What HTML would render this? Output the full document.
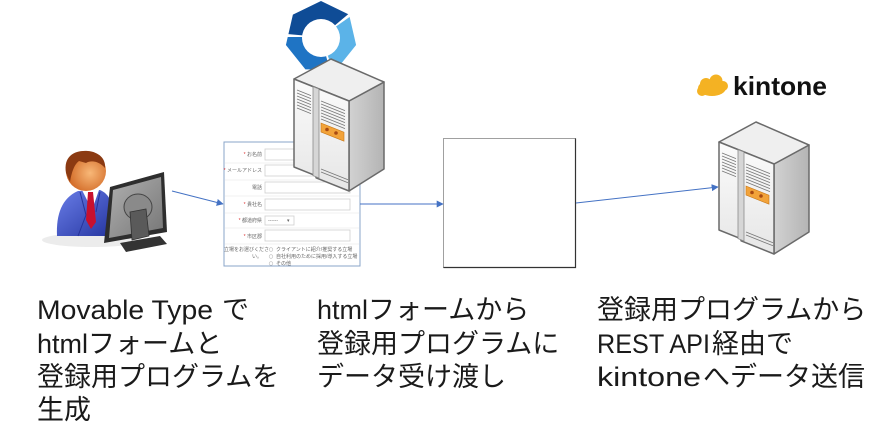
<!DOCTYPE html>
<html>
<head>
<meta charset="utf-8">
<style>
html,body{margin:0;padding:0;background:#fff;}
svg{display:block;}
.t{font-family:"Liberation Sans","Noto Sans CJK JP",sans-serif;font-size:27px;fill:#1a1a1a;}
.f{font-family:"Liberation Sans","Noto Sans CJK JP",sans-serif;font-size:5px;fill:#666;}
</style>
</head>
<body>
<svg width="891" height="427" viewBox="0 0 891 427" xmlns="http://www.w3.org/2000/svg">
<defs>
  <linearGradient id="rg" x1="0" y1="0" x2="1" y2="0">
    <stop offset="0" stop-color="#d2d2d2"/>
    <stop offset="1" stop-color="#b4b4b4"/>
  </linearGradient>
  <linearGradient id="fg" x1="0" y1="0" x2="0" y2="1">
    <stop offset="0" stop-color="#fbfbfb"/>
    <stop offset="1" stop-color="#e6e6e6"/>
  </linearGradient>
  <linearGradient id="bodyg" x1="0" y1="0" x2="1" y2="1">
    <stop offset="0" stop-color="#6a7ee8"/>
    <stop offset="1" stop-color="#2535a0"/>
  </linearGradient>
  <radialGradient id="headg" cx="0.6" cy="0.55" r="0.6">
    <stop offset="0" stop-color="#f8b878"/>
    <stop offset="1" stop-color="#cf6420"/>
  </radialGradient>
  <linearGradient id="mong" x1="0" y1="0" x2="1" y2="1">
    <stop offset="0" stop-color="#b0b0b0"/>
    <stop offset="1" stop-color="#767676"/>
  </linearGradient>
  <marker id="ah" viewBox="0 0 10 10" refX="9" refY="5" markerWidth="7" markerHeight="7" orient="auto" markerUnits="userSpaceOnUse">
    <path d="M0,0 L10,5 L0,10 Z" fill="#4472c4"/>
  </marker>
  <clipPath id="hep">
    <polygon points="321,1 349.1,14.6 356.1,45 336.6,69.4 305.4,69.4 285.9,45 292.9,14.6"/>
  </clipPath>
  <g id="srv">
    <path d="M55,42 L90,23 L90,110 L55,132 Z" fill="url(#rg)" stroke="#6a6a6a" stroke-width="1.5" stroke-linejoin="round"/>
    <path d="M0,20 L37,0 L90,23 L55,42 Z" fill="#efefef" stroke="#6a6a6a" stroke-width="1.5" stroke-linejoin="round"/>
    <path d="M0,20 L55,42 L55,132 L22,118.8 L22,116.8 L0,108 Z" fill="url(#fg)" stroke="#6a6a6a" stroke-width="1.5" stroke-linejoin="round"/>
    <path d="M19,27.6 L25,30 L25,119 L19,116.6 Z" fill="#d6d6d6" stroke="#8a8a8a" stroke-width="0.8"/>
    <g stroke="#777" stroke-width="0.8">
      <path d="M3,31 L17,36.6 M3,34 L17,39.6 M3,37 L17,42.6 M3,40 L17,45.6 M3,43 L17,48.6 M3,46 L17,51.6 M3,49 L17,54.6"/>
      <path d="M27,42 L51,51.6 M27,45 L51,54.6 M27,48 L51,57.6 M27,51 L51,60.6 M27,54 L51,63.6 M27,57 L51,66.6 M27,60 L51,69.6"/>
      <path d="M27,110 L54,120.8 M27,113 L54,123.8"/>
    </g>
    <path d="M27,64 L50,73.2 L50,82.2 L27,73 Z" fill="#f2a33a" stroke="#c87818" stroke-width="0.6"/>
    <circle cx="33" cy="70.5" r="1.8" fill="#a84a12"/>
    <circle cx="42" cy="74" r="1.8" fill="#a84a12"/>
  </g>
</defs>

<!-- Blue ring logo -->
<g clip-path="url(#hep)">
  <path d="M321,37 L261.2,31.8 A60,60 0 0,1 367,-1.6 Z" fill="#0f4c96"/>
  <path d="M321,37 L370.1,2.6 A60,60 0 0,1 341.5,93.4 Z" fill="#5bb3e8"/>
  <path d="M321,37 L336.5,95 A60,60 0 0,1 261,37 Z" fill="#1f74c4"/>
</g>
<circle cx="321" cy="38" r="19" fill="#fff"/>

<!-- Person icon -->
<ellipse cx="92" cy="240" rx="50" ry="7" fill="#ececec"/>
<path d="M57,236 C56,214 62,198 78,191 L100,190 C110,194 113,205 113,215 L112,236 Z" fill="url(#bodyg)"/>
<path d="M80,192 L86,215 L78,236 M100,192 L96,212" stroke="#25339a" stroke-width="1" fill="none"/>
<polygon points="82,190 99,190 92,210" fill="#ffffff"/>
<polygon points="88,192 93,192 96,222 91,229 86,220" fill="#c8102e"/>
<circle cx="86" cy="171" r="20" fill="url(#headg)"/>
<path d="M66,173 C63,155 76,150 88,151 C99,152 106,159 105,168 C99,161 91,160 86,163 L79,161 C75,164 72,170 70,182 Z" fill="#8b3a12"/>
<!-- monitor -->
<polygon points="110,187 164,172 167,232 104,243" fill="#2e2e2e"/>
<polygon points="113,190 161,177 163,228 109,238" fill="url(#mong)"/>
<ellipse cx="138" cy="207" rx="14" ry="13" fill="#8a8a8a" stroke="#444" stroke-width="1"/>
<polygon points="130,212 146,209 149,236 132,240" fill="#5a5a5a" stroke="#333" stroke-width="0.8"/>
<polygon points="120,243 160,236 167,244 126,252" fill="#333"/>

<!-- Form panel -->
<rect x="224" y="142" width="136" height="124" fill="#fff" stroke="#8aa4c8" stroke-width="1"/>
<g stroke="#eeeeee" stroke-width="0.8">
  <line x1="225" y1="163" x2="359" y2="163"/>
  <line x1="225" y1="180" x2="359" y2="180"/>
  <line x1="225" y1="196" x2="359" y2="196"/>
  <line x1="225" y1="213" x2="359" y2="213"/>
  <line x1="225" y1="228" x2="359" y2="228"/>
  <line x1="225" y1="244" x2="359" y2="244"/>
</g>
<g fill="#fff" stroke="#cfcfcf" stroke-width="0.8">
  <rect x="265" y="149" width="85" height="11"/>
  <rect x="265" y="165" width="85" height="11"/>
  <rect x="265" y="182" width="85" height="11"/>
  <rect x="265" y="199" width="85" height="11"/>
  <rect x="265" y="216" width="29" height="9"/>
  <rect x="265" y="230" width="85" height="11"/>
</g>
<g class="f" text-anchor="end">
  <text x="262" y="156"><tspan fill="#d33">* </tspan>お名前</text>
  <text x="262" y="172"><tspan fill="#d33">* </tspan>メールアドレス</text>
  <text x="262" y="189">電話</text>
  <text x="262" y="206"><tspan fill="#d33">* </tspan>貴社名</text>
  <text x="262" y="222"><tspan fill="#d33">* </tspan>都道府県</text>
  <text x="262" y="238"><tspan fill="#d33">* </tspan>市区郡</text>
  <text x="262" y="258">い。</text>
</g>
<text class="f" x="224" y="251">立場をお選びくださ</text>
<text class="f" x="268" y="222">------</text>
<text class="f" x="287" y="222">▾</text>
<g fill="none" stroke="#bbb" stroke-width="0.6">
  <circle cx="271" cy="249.5" r="1.8"/>
  <circle cx="271" cy="256.5" r="1.8"/>
  <circle cx="271" cy="263.5" r="1.8"/>
</g>
<g class="f">
  <text x="276" y="251">クライアントに紹介/推奨する立場</text>
  <text x="276" y="258">自社利用のために採用/導入する立場</text>
  <text x="276" y="265">その他</text>
</g>

<!-- Server 1 -->
<use href="#srv" transform="translate(294,59)"/>

<!-- Middle box -->
<rect x="443.5" y="138.5" width="132" height="129" fill="#fff" stroke="#a0a0a0" stroke-width="1"/>
<path d="M575.5,138.5 L575.5,267.5 L443.5,267.5" fill="none" stroke="#333" stroke-width="1.2"/>

<!-- kintone logo -->
<g fill="#f4b223">
  <ellipse cx="712" cy="88" rx="14" ry="8"/>
  <circle cx="706" cy="84" r="6"/>
  <circle cx="716" cy="81" r="6.5"/>
  <circle cx="723" cy="86" r="5"/>
  <circle cx="702" cy="91" r="5"/>
</g>
<text x="733" y="95" font-family="'Liberation Sans',sans-serif" font-weight="bold" font-size="26" fill="#111" textLength="94" lengthAdjust="spacingAndGlyphs">kintone</text>

<!-- Server 2 -->
<use href="#srv" transform="translate(719,122)"/>

<!-- Arrows -->
<g stroke="#4472c4" stroke-width="1" fill="none">
  <line x1="172" y1="191" x2="223" y2="204" marker-end="url(#ah)"/>
  <line x1="360" y1="204" x2="443" y2="204" marker-end="url(#ah)"/>
  <line x1="576" y1="203" x2="718" y2="187" marker-end="url(#ah)"/>
</g>

<!-- Captions -->
<g class="t">
  <text x="37" y="319" textLength="176" lengthAdjust="spacingAndGlyphs">Movable Type</text>
  <text x="222" y="319">で</text>
  <text x="37" y="353">htmlフォームと</text>
  <text x="37" y="386">登録用プログラムを</text>
  <text x="37" y="419">生成</text>

  <text x="317" y="319">htmlフォームから</text>
  <text x="317" y="353">登録用プログラムに</text>
  <text x="317" y="386">データ受け渡し</text>

  <text x="597" y="319">登録用プログラムから</text>
  <text x="597" y="353" textLength="113" lengthAdjust="spacingAndGlyphs">REST API</text>
  <text x="712" y="353">経由で</text>
  <text x="597" y="386" textLength="104" lengthAdjust="spacingAndGlyphs">kintone</text>
  <text x="703" y="386">へデータ送信</text>
</g>
</svg>
</body>
</html>
